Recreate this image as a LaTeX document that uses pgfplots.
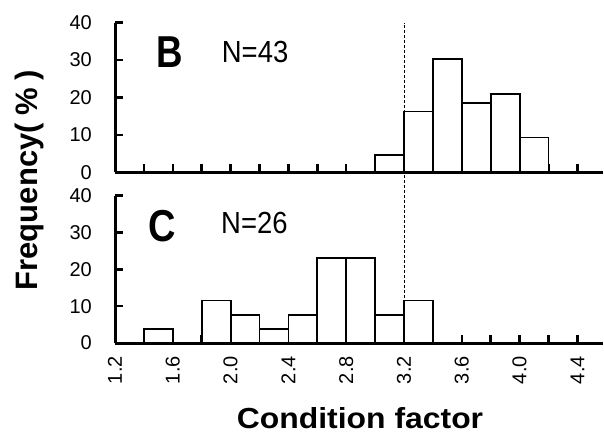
\documentclass[border=0pt]{standalone}
\usepackage{fontspec}
\setmainfont{Liberation Sans}
\usepackage{pgfplots}
\pgfplotsset{compat=1.18}
\begin{document}
\begin{tikzpicture}[x=1bp,y=1bp]
\useasboundingbox (0,0) rectangle (604,-433);
\pgfplotsset{
  hist/.style={
    scale only axis, width=488.4bp,
    xmin=1.2, xmax=4.58, ymin=0, ymax=40,
    enlargelimits=false,
    axis x line=bottom, axis y line=left,
    axis line style={-, line width=3bp, black},
    xtick={1.2,1.6,2.0,2.4,2.8,3.2,3.6,4.0,4.4},
    minor xtick={1.4,1.8,2.2,2.6,3.0,3.4,3.8,4.2},
    ytick={0,10,20,30,40},
    yticklabels={0,10,20,30,40},
    tick align=inside,
    major tick length=8bp, minor tick length=8bp,
    major tick style={black, line width=2.5bp},
    minor tick style={black, line width=2.5bp},
    yticklabel style={font=\fontsize{20bp}{20bp}\selectfont, inner sep=0pt, anchor=east, xshift=-23bp},
    xticklabel style={font=\fontsize{20bp}{20bp}\selectfont, inner sep=0pt, yshift=-13bp, rotate=90, anchor=east},
    clip=false,
  },
  bars/.style={ybar interval, fill=white, draw=black, line width=1.8bp},
}
% Panel B
\begin{axis}[hist, at={(115bp,-172.3bp)}, anchor=south west, height=149.6bp,
  xticklabels={}]
  \addplot[bars] coordinates {(3.0,4.65) (3.2,16.28) (3.4,30.23) (3.6,18.60) (3.8,20.93) (4.0,9.30) (4.2,0)};
  \addplot[black, line width=1bp, dash pattern=on 3bp off 2bp] coordinates {(3.2,-45.6) (3.2,40)};
  \node[anchor=base west, inner sep=0pt] at (rel axis cs:0.0854,0.699)
    {\fontsize{44.7bp}{45bp}\selectfont\bfseries\scalebox{0.82}[1]{B}};
  \node[anchor=base west, inner sep=0pt] at (rel axis cs:0.2185,0.735)
    {\fontsize{30.5bp}{31bp}\selectfont\scalebox{0.9}[1]{N=43}};
\end{axis}
% Panel C
\begin{axis}[hist, at={(115bp,-343bp)}, anchor=south west, height=147.3bp,
  xticklabels={1.2,1.6,2.0,2.4,2.8,3.2,3.6,4.0,4.4}]
  \addplot[bars] coordinates {(1.4,3.85) (1.6,0) (1.8,11.54) (2.0,7.69) (2.2,3.85) (2.4,7.69) (2.6,23.08) (2.8,23.08) (3.0,7.69) (3.2,11.54) (3.4,0)};
  \node[anchor=base west, inner sep=0pt] at (rel axis cs:0.0676,0.686)
    {\fontsize{44.7bp}{45bp}\selectfont\bfseries\scalebox{0.85}[1]{C}};
  \node[anchor=base west, inner sep=0pt] at (rel axis cs:0.217,0.74)
    {\fontsize{30.5bp}{31bp}\selectfont\scalebox{0.9}[1]{N=26}};
\end{axis}
\node[rotate=90, anchor=base, inner sep=0pt] at (37,-180)
  {\fontsize{31bp}{31bp}\selectfont\bfseries Frequency(\hspace{0.25em}\%\hspace{0.25em})};
\node[anchor=base, inner sep=0pt] at (360,-428)
  {\fontsize{29bp}{29bp}\selectfont\bfseries\scalebox{1.1}[1]{Condition factor}};
\end{tikzpicture}
\end{document}
